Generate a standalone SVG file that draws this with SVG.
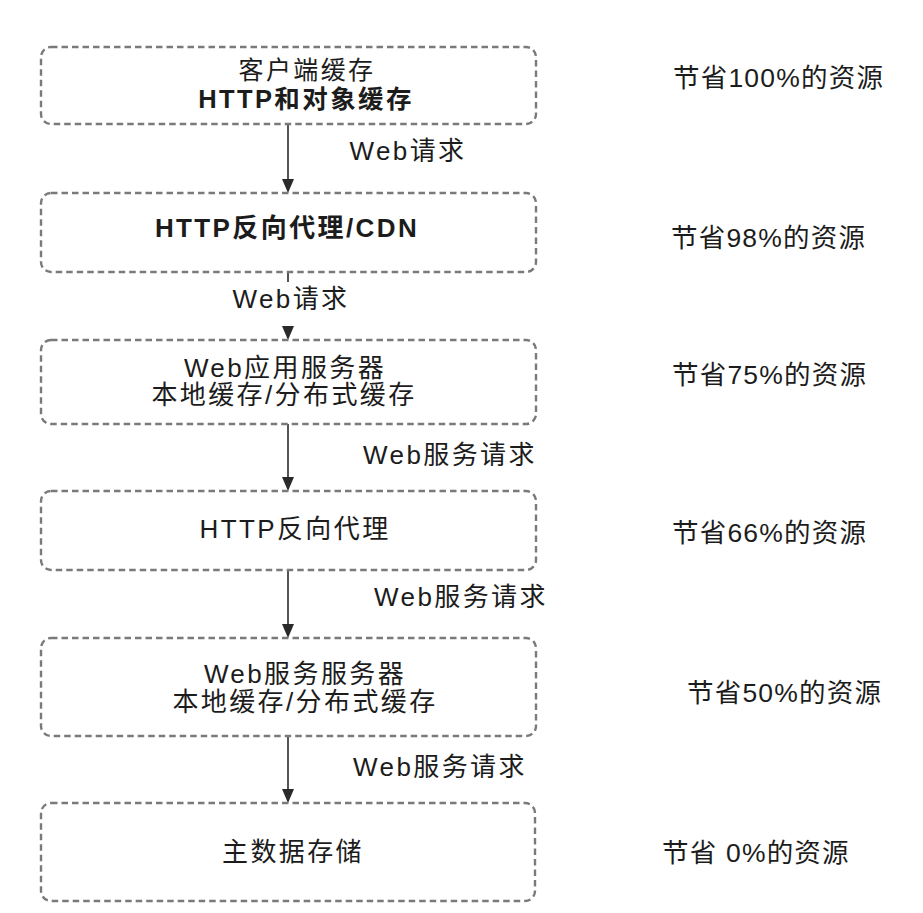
<svg xmlns="http://www.w3.org/2000/svg" width="923" height="913" viewBox="0 0 923 913">
<defs>
<style>
.box{fill:#fff;stroke:#7a7a7a;stroke-width:2.4;stroke-dasharray:6.5 4}
.t{font-family:"Liberation Sans","Noto Sans CJK SC",sans-serif;font-size:26px;fill:#1c1c1c;letter-spacing:2.4px;text-anchor:middle}
.b{font-weight:bold}
.r{font-family:"Liberation Sans","Noto Sans CJK SC",sans-serif;font-size:26.5px;fill:#1c1c1c;letter-spacing:1.2px}
.c{fill:none;stroke:#2a2a2a;stroke-width:1.6}
.h{fill:#2a2a2a}
</style>
</defs>
<rect width="923" height="913" fill="#fff"/>
<g id="connectors">
<path class="c" d="M288,124 V179"/>
<path class="h" d="M282,179 L294,179 L288,193 Z"/>
<path class="c" d="M288,272 V282"/>
<path class="h" d="M282,326 L294,326 L288,340 Z"/>
<path class="c" d="M288,424 V477"/>
<path class="h" d="M282,477 L294,477 L288,491 Z"/>
<path class="c" d="M288,570 V624"/>
<path class="h" d="M282,624 L294,624 L288,638 Z"/>
<path class="c" d="M288,736 V789"/>
<path class="h" d="M282,789 L294,789 L288,803 Z"/>
<text class="t" x="408" y="160">Web请求</text>
<text class="t" x="291" y="308">Web请求</text>
<text class="t" x="450" y="464">Web服务请求</text>
<text class="t" x="461" y="606">Web服务请求</text>
<text class="t" x="440" y="776">Web服务请求</text>
</g>
<g id="node-client">
<rect class="box" x="41" y="47" width="495" height="77" rx="10"/>
<text class="t" x="307" y="78.5" style="font-size:25px">客户端缓存</text>
<text class="t b" x="306" y="108" style="font-size:25.5px">HTTP和对象缓存</text>
</g>
<g id="node-cdn">
<rect class="box" x="41" y="193" width="495" height="79" rx="10"/>
<text class="t b" x="287" y="237">HTTP反向代理/CDN</text>
</g>
<g id="node-webapp">
<rect class="box" x="41" y="340" width="495" height="84" rx="10"/>
<text class="t" x="285" y="377">Web应用服务器</text>
<text class="t" x="284" y="404">本地缓存/分布式缓存</text>
</g>
<g id="node-proxy">
<rect class="box" x="41" y="491" width="495" height="79" rx="10"/>
<text class="t" x="295" y="538">HTTP反向代理</text>
</g>
<g id="node-webservice">
<rect class="box" x="41" y="638" width="495" height="98" rx="10"/>
<text class="t" x="305" y="683">Web服务服务器</text>
<text class="t" x="305" y="711">本地缓存/分布式缓存</text>
</g>
<g id="node-datastore">
<rect class="box" x="41" y="803" width="494" height="98" rx="10"/>
<text class="t" x="293" y="861">主数据存储</text>
</g>
<g id="savings">
<text class="r" x="673" y="87">节省100%的资源</text>
<text class="r" x="671" y="247">节省98%的资源</text>
<text class="r" x="672" y="384">节省75%的资源</text>
<text class="r" x="672" y="542">节省66%的资源</text>
<text class="r" x="687" y="702">节省50%的资源</text>
<text class="r" x="662" y="862">节省 0%的资源</text>
</g>
</svg>
